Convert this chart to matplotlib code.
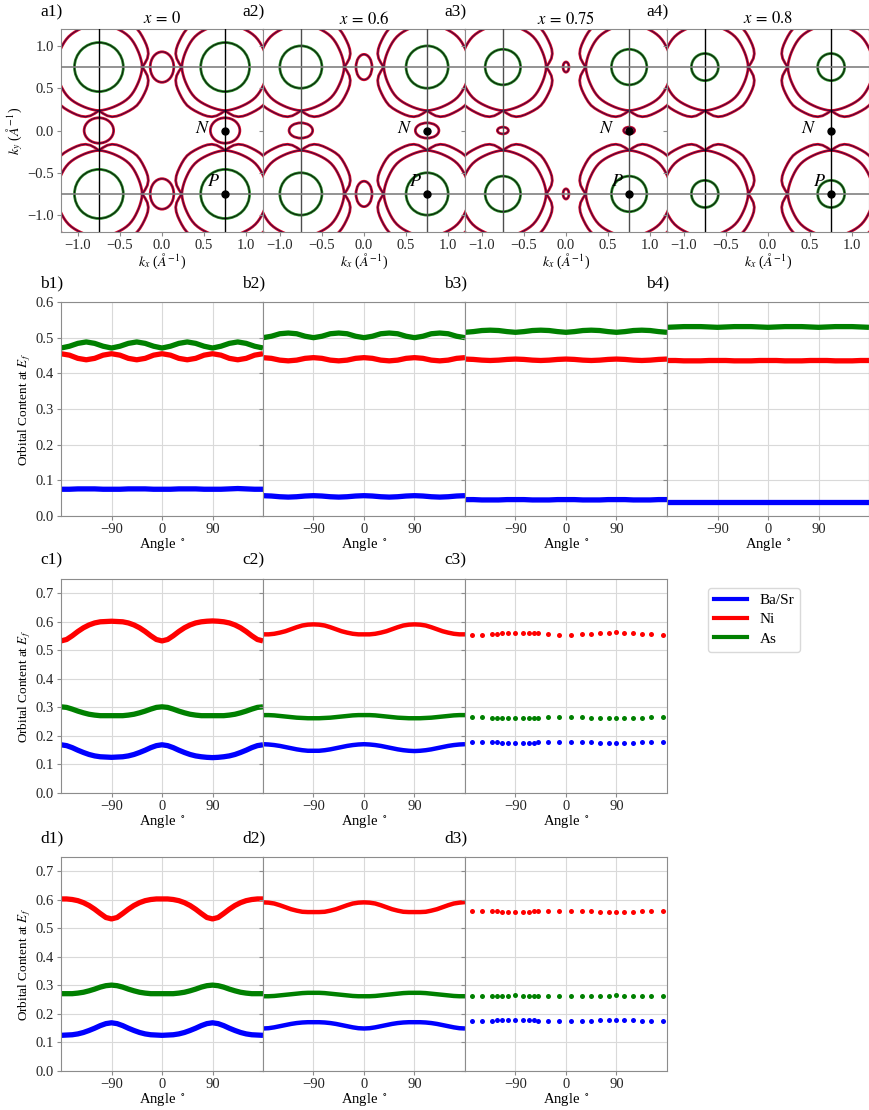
import matplotlib
matplotlib.use("Agg")
import matplotlib.pyplot as plt
import numpy as np
from matplotlib.patches import Circle, Ellipse
from matplotlib.lines import Line2D

plt.rcParams["font.family"] = ["Liberation Serif", "DejaVu Serif"]
plt.rcParams["mathtext.fontset"] = "stix"
plt.rcParams["axes.edgecolor"] = "0.55"
plt.rcParams["xtick.color"] = "0.55"
plt.rcParams["ytick.color"] = "0.55"
plt.rcParams["xtick.labelcolor"] = "0.15"
plt.rcParams["ytick.labelcolor"] = "0.15"
plt.rcParams["xtick.labelsize"] = 10.5
plt.rcParams["ytick.labelsize"] = 10.5

# ---------------- Fermi surface cuts (row a) ----------------
dopings = ["0", "0.6", "0.75", "0.8"]
green_radius = [0.29, 0.25, 0.21, 0.16]
gamma_ell_w = [0.28, 0.19, 0.07, 0.0]   # small pockets at (0, +-0.75)
gamma_ell_h = [0.36, 0.30, 0.12, 0.0]
n_ell_w = [0.35, 0.28, 0.13, 0.0]       # small pockets at (+-0.75, 0)
n_ell_h = [0.30, 0.18, 0.08, 0.0]
pocket_angles = [0, 5, 10, 15, 20, 25, 30, 35, 40, 45]
pocket_inner_r = [0.515, 0.512, 0.508, 0.505, 0.503, 0.502, 0.503, 0.505, 0.507, 0.508]
pocket_outer_r = [0.515, 0.55, 0.585, 0.608, 0.618, 0.622, 0.625, 0.63, 0.636, 0.64]
centers = [-0.75, 0.75]

# ---------------- orbital content (rows b, c, d) ----------------
ang_b = list(range(-180, 181, 15))
ang_cd = list(range(-180, 181, 10))

b_as = [
    [0.471, 0.476, 0.484, 0.488, 0.484, 0.476, 0.471, 0.476, 0.484, 0.488, 0.484, 0.476, 0.471,
     0.476, 0.484, 0.488, 0.484, 0.476, 0.471, 0.476, 0.484, 0.488, 0.484, 0.476, 0.471],
    [0.500, 0.504, 0.511, 0.513, 0.511, 0.504, 0.500, 0.504, 0.511, 0.513, 0.511, 0.504, 0.500,
     0.504, 0.511, 0.513, 0.511, 0.504, 0.500, 0.504, 0.511, 0.513, 0.511, 0.504, 0.500],
    [0.515, 0.517, 0.520, 0.521, 0.520, 0.517, 0.515, 0.517, 0.520, 0.521, 0.520, 0.517, 0.515,
     0.517, 0.520, 0.521, 0.520, 0.517, 0.515, 0.517, 0.520, 0.521, 0.520, 0.517, 0.515],
    [0.529, 0.530, 0.531, 0.531, 0.531, 0.530, 0.529, 0.530, 0.531, 0.531, 0.531, 0.530, 0.529,
     0.530, 0.531, 0.531, 0.531, 0.530, 0.529, 0.530, 0.531, 0.531, 0.531, 0.530, 0.529],
]
b_ni = [
    [0.455, 0.451, 0.442, 0.438, 0.442, 0.451, 0.455, 0.451, 0.442, 0.438, 0.442, 0.451, 0.455,
     0.451, 0.442, 0.438, 0.442, 0.451, 0.455, 0.451, 0.442, 0.438, 0.442, 0.451, 0.455],
    [0.444, 0.442, 0.437, 0.435, 0.437, 0.442, 0.444, 0.442, 0.437, 0.435, 0.437, 0.442, 0.444,
     0.442, 0.437, 0.435, 0.437, 0.442, 0.444, 0.442, 0.437, 0.435, 0.437, 0.442, 0.444],
    [0.440, 0.439, 0.437, 0.436, 0.437, 0.439, 0.440, 0.439, 0.437, 0.436, 0.437, 0.439, 0.440,
     0.439, 0.437, 0.436, 0.437, 0.439, 0.440, 0.439, 0.437, 0.436, 0.437, 0.439, 0.440],
    [0.436, 0.436, 0.435, 0.435, 0.435, 0.436, 0.436, 0.436, 0.435, 0.435, 0.435, 0.436, 0.436,
     0.436, 0.435, 0.435, 0.435, 0.436, 0.436, 0.436, 0.435, 0.435, 0.435, 0.436, 0.436],
]
b_basr = [
    [0.075, 0.075, 0.076, 0.076, 0.076, 0.075, 0.075, 0.075, 0.076, 0.076, 0.076, 0.075, 0.075,
     0.075, 0.076, 0.076, 0.076, 0.075, 0.075, 0.075, 0.076, 0.077, 0.076, 0.075, 0.075],
    [0.057, 0.056, 0.054, 0.053, 0.054, 0.056, 0.057, 0.056, 0.054, 0.053, 0.054, 0.056, 0.057,
     0.056, 0.054, 0.053, 0.054, 0.056, 0.057, 0.056, 0.054, 0.053, 0.054, 0.056, 0.057],
    [0.046, 0.046, 0.045, 0.045, 0.045, 0.046, 0.046, 0.046, 0.045, 0.045, 0.045, 0.046, 0.046,
     0.046, 0.045, 0.045, 0.045, 0.046, 0.046, 0.046, 0.045, 0.045, 0.045, 0.046, 0.046],
    [0.038, 0.038, 0.038, 0.038, 0.038, 0.038, 0.038, 0.038, 0.038, 0.038, 0.038, 0.038, 0.038,
     0.038, 0.038, 0.038, 0.038, 0.038, 0.038, 0.038, 0.038, 0.038, 0.038, 0.038, 0.038],
]

c1_ni = [0.533, 0.538, 0.551, 0.566, 0.579, 0.589, 0.596, 0.600, 0.601, 0.602,
         0.601, 0.600, 0.596, 0.589, 0.579, 0.566, 0.551, 0.538, 0.533,
         0.538, 0.551, 0.566, 0.579, 0.589, 0.596, 0.600, 0.602, 0.603,
         0.602, 0.600, 0.596, 0.589, 0.579, 0.566, 0.551, 0.538, 0.533]
c1_as = [0.302, 0.300, 0.294, 0.287, 0.281, 0.276, 0.273, 0.271, 0.271, 0.271,
         0.271, 0.271, 0.273, 0.276, 0.281, 0.287, 0.294, 0.300, 0.302,
         0.300, 0.294, 0.287, 0.281, 0.276, 0.273, 0.271, 0.271, 0.271,
         0.271, 0.271, 0.273, 0.276, 0.281, 0.287, 0.294, 0.300, 0.302]
c1_basr = [0.169, 0.166, 0.159, 0.150, 0.142, 0.135, 0.130, 0.127, 0.126, 0.125,
           0.126, 0.127, 0.130, 0.135, 0.142, 0.150, 0.159, 0.166, 0.169,
           0.166, 0.159, 0.150, 0.142, 0.135, 0.130, 0.127, 0.125, 0.124,
           0.125, 0.127, 0.130, 0.135, 0.142, 0.150, 0.159, 0.166, 0.169]
c2_ni = [0.556, 0.556, 0.558, 0.562, 0.567, 0.574, 0.581, 0.587, 0.590, 0.591,
         0.590, 0.587, 0.581, 0.574, 0.567, 0.562, 0.558, 0.556, 0.556,
         0.556, 0.558, 0.562, 0.567, 0.574, 0.581, 0.587, 0.590, 0.591,
         0.590, 0.587, 0.581, 0.574, 0.567, 0.562, 0.558, 0.556, 0.556]
c2_as = [0.273, 0.273, 0.272, 0.270, 0.268, 0.266, 0.264, 0.263, 0.262, 0.262,
         0.262, 0.263, 0.264, 0.266, 0.268, 0.270, 0.272, 0.273, 0.273,
         0.273, 0.272, 0.270, 0.268, 0.266, 0.264, 0.263, 0.262, 0.262,
         0.262, 0.263, 0.264, 0.266, 0.268, 0.270, 0.272, 0.273, 0.273]
c2_basr = [0.171, 0.170, 0.168, 0.165, 0.161, 0.157, 0.153, 0.150, 0.148, 0.148,
           0.148, 0.150, 0.153, 0.157, 0.161, 0.165, 0.168, 0.170, 0.171,
           0.170, 0.168, 0.165, 0.161, 0.157, 0.153, 0.150, 0.148, 0.147,
           0.148, 0.150, 0.153, 0.157, 0.161, 0.165, 0.168, 0.170, 0.171]
d1_ni = [0.603, 0.603, 0.601, 0.597, 0.590, 0.580, 0.567, 0.552, 0.538, 0.533,
         0.538, 0.552, 0.567, 0.580, 0.590, 0.597, 0.601, 0.603, 0.603,
         0.603, 0.601, 0.597, 0.590, 0.580, 0.567, 0.552, 0.538, 0.533,
         0.538, 0.552, 0.567, 0.580, 0.590, 0.597, 0.601, 0.603, 0.603]
d1_as = [0.271, 0.271, 0.271, 0.273, 0.276, 0.281, 0.287, 0.294, 0.299, 0.301,
         0.299, 0.294, 0.287, 0.281, 0.276, 0.273, 0.271, 0.271, 0.271,
         0.271, 0.271, 0.273, 0.276, 0.281, 0.287, 0.294, 0.299, 0.301,
         0.299, 0.294, 0.287, 0.281, 0.276, 0.273, 0.271, 0.271, 0.271]
d1_basr = [0.125, 0.126, 0.127, 0.130, 0.135, 0.142, 0.150, 0.159, 0.166, 0.169,
           0.166, 0.159, 0.150, 0.142, 0.135, 0.130, 0.127, 0.126, 0.125,
           0.126, 0.127, 0.130, 0.135, 0.142, 0.150, 0.159, 0.166, 0.169,
           0.166, 0.159, 0.150, 0.142, 0.135, 0.130, 0.127, 0.126, 0.125]
d2_ni = [0.591, 0.590, 0.587, 0.581, 0.574, 0.567, 0.562, 0.558, 0.557, 0.557,
         0.557, 0.558, 0.562, 0.567, 0.574, 0.581, 0.587, 0.590, 0.591,
         0.590, 0.587, 0.581, 0.574, 0.567, 0.562, 0.558, 0.557, 0.557,
         0.557, 0.558, 0.562, 0.567, 0.574, 0.581, 0.587, 0.590, 0.592]
d2_as = [0.262, 0.262, 0.263, 0.265, 0.267, 0.269, 0.271, 0.273, 0.274, 0.274,
         0.274, 0.273, 0.271, 0.269, 0.267, 0.265, 0.263, 0.262, 0.262,
         0.262, 0.263, 0.265, 0.267, 0.269, 0.271, 0.273, 0.274, 0.274,
         0.274, 0.273, 0.271, 0.269, 0.267, 0.265, 0.263, 0.262, 0.262]
d2_basr = [0.149, 0.150, 0.153, 0.157, 0.161, 0.165, 0.168, 0.170, 0.171, 0.171,
           0.171, 0.170, 0.168, 0.165, 0.161, 0.157, 0.153, 0.150, 0.149,
           0.150, 0.153, 0.157, 0.161, 0.165, 0.168, 0.170, 0.171, 0.171,
           0.171, 0.170, 0.168, 0.165, 0.161, 0.157, 0.153, 0.150, 0.149]

ang_sparse = [-168, -149, -132, -123, -114, -104, -90, -76, -66, -57, -50, -32,
              -12, 9, 28, 45, 60, 77, 90, 103, 120, 135, 152, 172]
c3_ni = [0.555, 0.555, 0.557, 0.558, 0.559, 0.561, 0.562, 0.562, 0.561, 0.560, 0.559, 0.556,
         0.555, 0.555, 0.556, 0.558, 0.560, 0.562, 0.563, 0.562, 0.559, 0.557, 0.556, 0.555]
c3_as = [0.265, 0.265, 0.264, 0.264, 0.263, 0.263, 0.262, 0.262, 0.263, 0.263, 0.264, 0.265,
         0.265, 0.265, 0.265, 0.264, 0.263, 0.262, 0.262, 0.262, 0.263, 0.264, 0.265, 0.265]
c3_basr = [0.178, 0.178, 0.177, 0.177, 0.176, 0.175, 0.174, 0.175, 0.176, 0.176, 0.177, 0.178,
           0.178, 0.178, 0.178, 0.177, 0.176, 0.175, 0.174, 0.175, 0.176, 0.177, 0.178, 0.178]
d3_ni = [0.562, 0.561, 0.560, 0.559, 0.558, 0.557, 0.557, 0.557, 0.558, 0.559, 0.559, 0.561,
         0.562, 0.562, 0.561, 0.559, 0.558, 0.557, 0.557, 0.557, 0.558, 0.560, 0.561, 0.562]
d3_as = [0.262, 0.262, 0.263, 0.263, 0.264, 0.264, 0.265, 0.264, 0.264, 0.263, 0.263, 0.262,
         0.262, 0.262, 0.262, 0.263, 0.264, 0.264, 0.265, 0.264, 0.264, 0.263, 0.262, 0.262]
d3_basr = [0.175, 0.175, 0.176, 0.177, 0.177, 0.178, 0.178, 0.178, 0.177, 0.177, 0.176, 0.175,
           0.175, 0.175, 0.175, 0.176, 0.177, 0.178, 0.178, 0.178, 0.177, 0.176, 0.175, 0.175]

col_basr, col_ni, col_as = "#0000ff", "#ff0000", "#008000"
labels = ["Ba/Sr", "Ni", "As"]

# ---------------- layout (pixels of a 870x1110 canvas) ----------------
W, H = 870.0, 1110.0
lefts = [61, 263, 465, 667]
pw = 202


def box(left, top, bottom):
    return [left / W, 1 - bottom / H, pw / W, (bottom - top) / H]


fig = plt.figure(figsize=(8.7, 11.1), dpi=100)


def panel_label(left, top, txt, gap=19):
    fig.text((left - 21) / W, 1 - (top - gap) / H, txt, fontsize=12.5, ha="left", va="center")


def pocket_xy(cx, cy, radii):
    step = pocket_angles[1] - pocket_angles[0]
    r_q = list(radii) + list(radii[-2::-1])
    r_full = np.array(r_q[:-1] * 4 + [r_q[0]])
    th = np.deg2rad(np.arange(len(r_full)) * step)
    return cx + r_full * np.cos(th), cy + r_full * np.sin(th)


red_c, red_core = "#d40a2a", "#3c0840"
for i in range(4):
    ax = fig.add_axes(box(lefts[i], 29, 232))
    for cx in centers:
        for cy in centers:
            for radii in (pocket_outer_r, pocket_inner_r):
                x, y = pocket_xy(cx, cy, radii)
                ax.plot(x, y, color=red_c, lw=2.0, zorder=2)
                ax.plot(x, y, color=red_core, lw=0.7, zorder=2.1)
            for lw, c in ((2.0, "#2f8f2f"), (0.8, "#0a200a")):
                ax.add_patch(Circle((cx, cy), green_radius[i], fill=False, lw=lw, ec=c, zorder=2))
    if gamma_ell_w[i] > 0:
        for cy in centers:
            for lw, c in ((2.0, red_c), (0.7, red_core)):
                ax.add_patch(Ellipse((0, cy), gamma_ell_w[i], gamma_ell_h[i], fill=False, lw=lw, ec=c, zorder=2))
        for cx in centers:
            for lw, c in ((2.0, red_c), (0.7, red_core)):
                ax.add_patch(Ellipse((cx, 0), n_ell_w[i], n_ell_h[i], fill=False, lw=lw, ec=c, zorder=2))
    vcol = "black" if i in (0, 3) else "0.3"
    for c in centers:
        ax.axvline(c, color=vcol, lw=1.0, zorder=3)
        ax.axhline(c, color="0.5", lw=1.2, zorder=3)
    ax.plot([0.75, 0.75], [0.0, -0.75], "o", color="black", ms=5, zorder=5)
    ax.text(0.58, 0.02, "$N$", fontsize=13, ha="right", va="center", zorder=6)
    ax.text(0.69, -0.6, "$P$", fontsize=13, ha="right", va="center", zorder=6)
    ax.set_xlim(-1.2, 1.2)
    ax.set_ylim(-1.2, 1.2)
    ax.set_xticks([-1.0, -0.5, 0.0, 0.5, 1.0])
    ax.set_yticks([-1.0, -0.5, 0.0, 0.5, 1.0])
    ax.tick_params(length=3, pad=2)
    ax.set_xlabel(r"$k_x$ ($\AA^{-1}$)", fontsize=10, labelpad=0)
    if i == 0:
        ax.set_ylabel(r"$k_y$ ($\AA^{-1}$)", fontsize=10, labelpad=2)
    else:
        ax.set_yticklabels([])
    ax.text(0.5, 1 + 10 / 203, "$x\\,=\\,%s$" % dopings[i], transform=ax.transAxes,
            fontsize=12, ha="center", va="center")
    panel_label(lefts[i], 29, "a%d)" % (i + 1), gap=17)


def style_angle_axis(ax, first, ymax, yticks):
    ax.set_xlim(-180, 180)
    ax.set_ylim(0, ymax)
    ax.set_xticks([-90, 0, 90])
    ax.set_yticks(yticks)
    ax.grid(True, color="0.85", lw=0.8)
    ax.set_axisbelow(True)
    ax.tick_params(length=3, pad=2)
    ax.set_xlabel(r"Angle $^\circ$", fontsize=10.5, labelpad=0)
    if first:
        ax.set_ylabel(r"Orbital Content at $E_f$", fontsize=9.5, labelpad=2)
    else:
        ax.set_yticklabels([])


# row b
for i in range(4):
    ax = fig.add_axes(box(lefts[i], 302, 516))
    for vals, col in ((b_basr[i], col_basr), (b_ni[i], col_ni), (b_as[i], col_as)):
        ax.plot(ang_b, vals, color=col, lw=3.8, solid_capstyle="butt")
    style_angle_axis(ax, i == 0, 0.6, [0, 0.1, 0.2, 0.3, 0.4, 0.5, 0.6])
    panel_label(lefts[i], 302, "b%d)" % (i + 1))

# rows c and d
rows = [
    (579, 793, "c", [(c1_basr, c1_ni, c1_as), (c2_basr, c2_ni, c2_as), (c3_basr, c3_ni, c3_as)]),
    (857, 1071, "d", [(d1_basr, d1_ni, d1_as), (d2_basr, d2_ni, d2_as), (d3_basr, d3_ni, d3_as)]),
]
for top, bottom, letter, series in rows:
    for i in range(3):
        ax = fig.add_axes(box(lefts[i], top, bottom))
        for vals, col in zip(series[i], (col_basr, col_ni, col_as)):
            if i == 2:
                ax.plot(ang_sparse, vals, "o", color=col, ms=3.6, mec="none")
            elif i == 1:
                ax.plot(ang_cd, vals, color=col, lw=3.2, solid_capstyle="butt")
            else:
                ax.plot(ang_cd, vals, color=col, lw=3.8, solid_capstyle="butt")
        style_angle_axis(ax, i == 0, 0.75, [0, 0.1, 0.2, 0.3, 0.4, 0.5, 0.6, 0.7])
        panel_label(lefts[i], top, "%s%d)" % (letter, i + 1))

handles = [Line2D([], [], color=c, lw=3) for c in (col_basr, col_ni, col_as)]
fig.legend(handles, labels, loc="upper left", bbox_to_anchor=(700 / W, 1 - 580 / H),
           fontsize=11, handlelength=2.2, labelspacing=0.35, borderpad=0.4,
           edgecolor="0.85", framealpha=1)

fig.savefig("out.png", dpi=100)
